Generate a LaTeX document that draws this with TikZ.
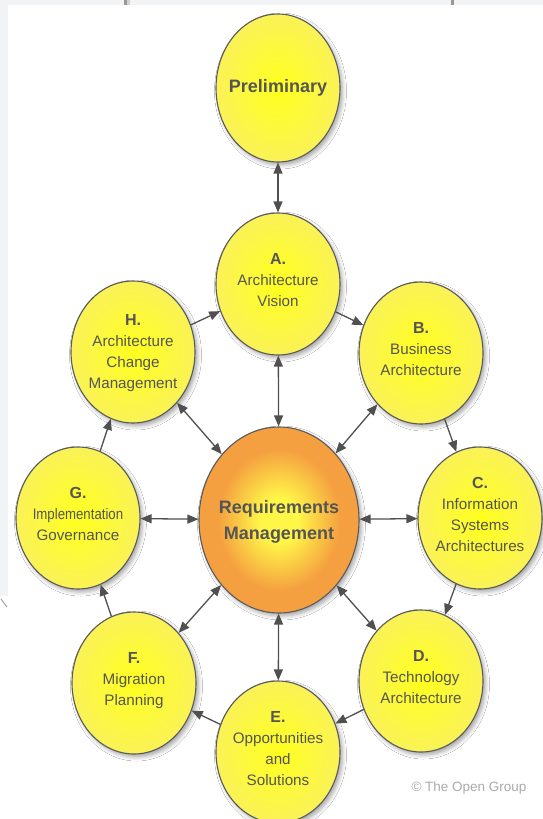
\documentclass[tikz,border=0pt]{standalone}
\usepackage{fontspec}
\setmainfont{Liberation Sans}
\usepackage{xcolor}
\usepackage{graphicx}
\usetikzlibrary{shapes.geometric}
\usetikzlibrary{arrows.meta}
\usetikzlibrary{shadows.blur}

\definecolor{rimgray}{HTML}{5A5A5A}
\definecolor{txtgray}{HTML}{555555}
\definecolor{arrgray}{HTML}{505050}
\definecolor{ylin}{RGB}{255,255,30}
\definecolor{ylout}{RGB}{250,242,88}
\definecolor{orin}{RGB}{255,246,72}
\definecolor{orout}{RGB}{245,160,64}
\definecolor{stripgray}{HTML}{F2F3F5}
\definecolor{copygray}{HTML}{ABABAB}

\pgfdeclareradialshading{reqshade}{\pgfpoint{0bp}{0bp}}{color(0bp)=(orin); color(6bp)=(orin); color(19bp)=(orout); color(25bp)=(orout); color(50bp)=(orout)}

\newcommand{\lett}[1]{{\fontsize{16}{21}\selectfont\bfseries #1}}

\begin{document}
\begin{tikzpicture}[x=1pt,y=-1pt,
	phase/.style={ellipse,draw=rimgray,line width=1.1pt,inner sep=-20pt,
		minimum width=124pt,minimum height=142pt,align=center,text depth=8pt,
		shading=radial,inner color=ylin,outer color=ylout,
		text=txtgray,font=\fontsize{15.2}{21}\selectfont,
		blur shadow={shadow xshift=2.5pt,shadow yshift=-3pt,shadow blur radius=4pt,shadow opacity=35}},
	core/.style={phase,minimum width=160pt,minimum height=186pt,shading=reqshade,
		text depth=0pt,font=\fontsize{18}{26}\selectfont\bfseries},
	link/.style={draw=arrgray,line width=1.3pt,-{Triangle[length=11pt,width=9pt]}},
	dlink/.style={draw=arrgray,line width=1.3pt,{Triangle[length=11pt,width=9pt]}-{Triangle[length=11pt,width=9pt]}}]
\useasboundingbox (0,0) rectangle (543,819);
\fill[white] (0,0) rectangle (543,819);
%bords de la capture
\fill[stripgray] (0,0) rectangle (543,5);
\fill[stripgray] (0,0) rectangle (8,596);
\fill[gray!80] (124,0) rectangle (127,5);
\fill[gray!35] (127,0) rectangle (130,5);
\fill[gray!80] (451,0) rectangle (454,5);
\draw[gray!70,line width=1pt] (1,599) -- (7,607);

%phases
\node[phase,minimum height=148pt,text depth=4pt] (P) at (278,88) {\fontsize{18}{22}\selectfont\bfseries Preliminary};
\node[phase] (A) at (278,284) {\lett{A.}\\Architecture\\Vision};
\node[phase] (B) at (421,353) {\lett{B.}\\Business\\Architecture};
\node[phase] (C) at (480,518) {\lett{C.}\\Information\\Systems\\Architectures};
\node[phase] (D) at (421,681) {\lett{D.}\\Technology\\Architecture};
\node[phase] (E) at (278,752) {\lett{E.}\\Opportunities\\and\\Solutions};
\node[phase] (F) at (134,683) {\lett{F.}\\Migration\\Planning};
\node[phase] (G) at (78,518) {\lett{G.}\\\scalebox{0.87}[1]{Implementation}\\Governance};
\node[phase,text depth=2pt] (H) at (133,352) {\lett{H.}\\Architecture\\Change\\Management};
%centre
\node[core] (R) at (279,520) {Requirements\\Management};

%cycle
\draw[link] (A) -- (B);
\draw[link] (B) -- (C);
\draw[link] (C) -- (D);
\draw[link] (D) -- (E);
\draw[link] (E) -- (F);
\draw[link] (F) -- (G);
\draw[link] (G) -- (H);
\draw[link] (H) -- (A);

%vers le centre
\draw[dlink] (P) -- (A);
\draw[dlink] (A) -- (R);
\draw[dlink] (R) -- (B);
\draw[dlink] (R) -- (C);
\draw[dlink] (R) -- (D);
\draw[dlink] (R) -- (E);
\draw[dlink] (R) -- (F);
\draw[dlink] (R) -- (G);
\draw[dlink] (R) -- (H);

\node[text=copygray,font=\fontsize{13.5}{16}\selectfont] (copy) at (469,788) {© The Open Group};
\end{tikzpicture}
\end{document}
